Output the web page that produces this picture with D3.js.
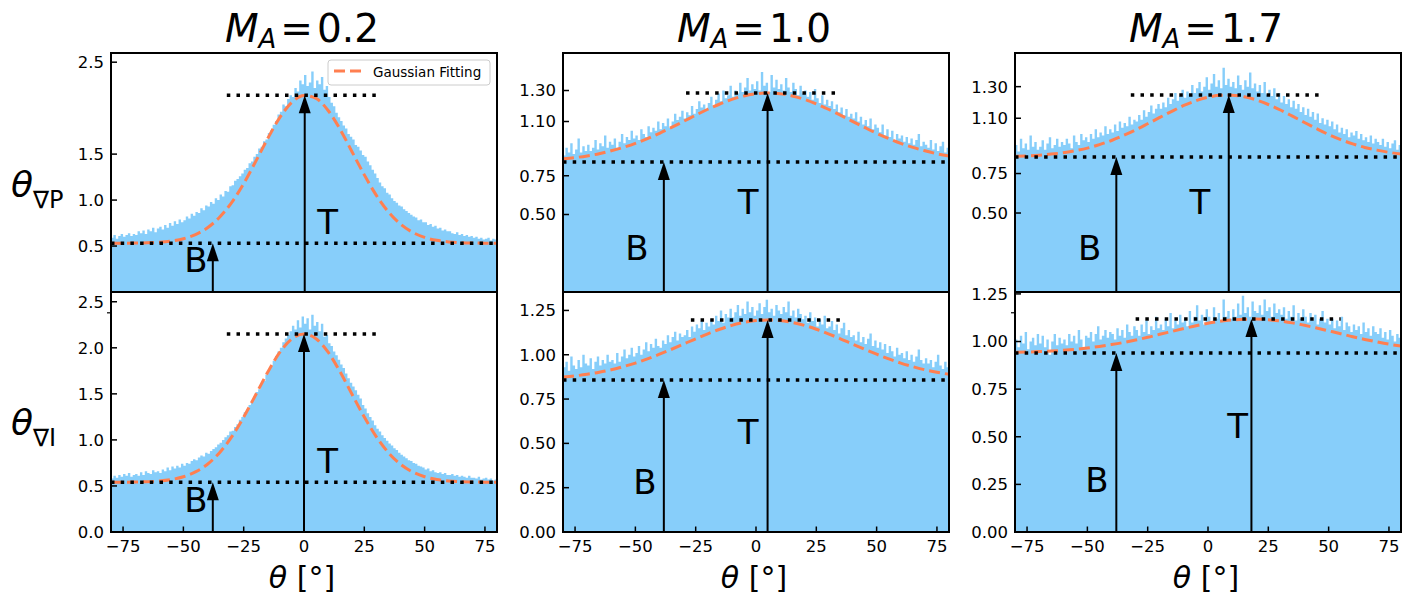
<!DOCTYPE html>
<html><head><meta charset="utf-8">
<script src="https://cdn.jsdelivr.net/npm/d3@7"></script>
<style>body{margin:0;background:#fff}svg{display:block;font-family:"DejaVu Sans",sans-serif}</style>
</head><body><svg id="c" width="1413" height="597"></svg>
<script>
// ---------- data ----------
const machNumbers = ["0.2", "1.0", "1.7"];
const rowVars = ["\u2207P", "\u2207I"];
const thetaTicks = [-75, -50, -25, 0, 25, 50, 75];
const thetaTickLabels = ["\u221275", "\u221250", "\u221225", "0", "25", "50", "75"];
const binLefts = d3.range(-80, 80, 1);      // 1-degree bins
const fitTheta = d3.range(-80, 81, 5);      // fit curve sample points

const histTL = [0.59,0.62,0.58,0.61,0.63,0.60,0.62,0.64,0.61,0.63,
 0.62,0.66,0.64,0.67,0.63,0.68,0.66,0.70,0.65,0.69,
 0.71,0.68,0.73,0.70,0.75,0.72,0.77,0.74,0.79,0.76,
 0.78,0.82,0.80,0.85,0.83,0.87,0.86,0.91,0.89,0.94,
 0.93,0.98,0.96,1.02,1.00,1.06,1.04,1.10,1.09,1.15,
 1.16,1.21,1.23,1.26,1.29,1.33,1.35,1.40,1.42,1.47,
 1.50,1.56,1.58,1.64,1.66,1.73,1.76,1.82,1.86,1.93,
 1.96,2.04,2.02,2.10,2.14,2.12,2.22,2.18,2.30,2.26,
 2.36,2.24,2.28,2.40,2.22,2.30,2.26,2.34,2.20,2.24,
 2.12,2.06,2.02,1.95,1.90,1.86,1.81,1.78,1.72,1.69,
 1.66,1.60,1.58,1.54,1.49,1.47,1.42,1.38,1.33,1.29,
 1.24,1.19,1.15,1.13,1.08,1.06,1.02,0.99,0.97,0.94,
 0.93,0.90,0.88,0.86,0.84,0.82,0.81,0.78,0.79,0.76,
 0.76,0.73,0.74,0.71,0.72,0.69,0.70,0.67,0.68,0.66,
 0.66,0.64,0.63,0.65,0.62,0.63,0.61,0.62,0.60,0.61,
 0.59,0.60,0.58,0.59,0.57,0.58,0.59,0.56,0.58,0.57];
const histTM = [0.88,0.93,0.90,0.96,0.89,0.92,0.99,0.90,0.94,0.91,
 0.95,0.91,0.93,0.98,0.92,0.96,0.94,1.01,0.93,0.97,
 0.95,0.99,0.93,0.97,1.02,0.96,1.00,0.98,1.04,0.99,
 1.01,0.98,1.05,1.02,1.00,1.07,1.03,1.06,1.04,1.10,
 1.05,1.09,1.07,1.12,1.06,1.10,1.15,1.11,1.13,1.17,
 1.12,1.16,1.14,1.20,1.15,1.18,1.23,1.19,1.21,1.17,
 1.22,1.26,1.20,1.24,1.28,1.23,1.30,1.25,1.27,1.33,
 1.26,1.30,1.28,1.35,1.29,1.32,1.38,1.30,1.34,1.31,
 1.36,1.30,1.42,1.33,1.35,1.29,1.40,1.32,1.37,1.31,
 1.34,1.30,1.38,1.32,1.29,1.35,1.31,1.27,1.33,1.28,
 1.30,1.26,1.29,1.24,1.31,1.25,1.22,1.27,1.21,1.24,
 1.20,1.23,1.18,1.21,1.16,1.19,1.14,1.18,1.13,1.15,
 1.12,1.16,1.10,1.13,1.08,1.11,1.07,1.12,1.05,1.08,
 1.06,1.03,1.08,1.01,1.05,1.00,1.04,0.98,1.02,0.99,
 1.01,0.97,1.00,0.96,0.99,0.95,0.98,1.02,0.94,0.97,
 0.95,0.93,0.98,0.92,0.96,0.91,0.94,0.97,0.90,0.93];
const histTR = [0.93,0.89,0.97,0.91,0.94,0.90,0.99,0.92,0.95,0.90,
 0.92,0.96,0.90,0.94,0.98,0.91,0.93,0.97,0.92,0.95,
 0.93,0.97,0.94,0.91,0.99,0.95,0.93,1.00,0.96,0.98,
 0.95,1.00,0.97,1.03,0.98,1.01,0.99,1.05,1.00,1.03,
 1.01,1.06,1.02,1.08,1.04,1.07,1.05,1.11,1.06,1.09,
 1.08,1.12,1.09,1.15,1.11,1.14,1.18,1.13,1.16,1.19,
 1.16,1.20,1.17,1.23,1.19,1.22,1.26,1.21,1.24,1.28,
 1.23,1.27,1.25,1.31,1.26,1.29,1.33,1.27,1.30,1.36,
 1.28,1.32,1.38,1.30,1.34,1.29,1.42,1.31,1.35,1.30,
 1.33,1.29,1.37,1.31,1.28,1.34,1.30,1.39,1.29,1.32,
 1.27,1.31,1.26,1.33,1.25,1.28,1.24,1.29,1.22,1.26,
 1.20,1.24,1.19,1.22,1.17,1.21,1.16,1.19,1.14,1.17,
 1.12,1.16,1.11,1.14,1.09,1.13,1.07,1.10,1.06,1.09,
 1.05,1.08,1.03,1.06,1.01,1.04,1.00,1.03,0.98,1.01,
 0.99,1.02,0.97,1.00,0.96,0.98,0.95,0.99,0.94,0.97,
 0.95,0.93,0.97,0.92,0.95,0.91,0.94,0.96,0.90,0.93];
const histBL = [0.58,0.61,0.59,0.62,0.60,0.63,0.61,0.64,0.60,0.62,
 0.63,0.61,0.65,0.62,0.66,0.64,0.63,0.67,0.65,0.66,
 0.64,0.68,0.66,0.70,0.67,0.71,0.69,0.72,0.70,0.74,
 0.72,0.75,0.74,0.77,0.79,0.78,0.81,0.83,0.82,0.86,
 0.85,0.88,0.90,0.92,0.95,0.97,1.00,1.03,1.05,1.09,
 1.10,1.14,1.17,1.22,1.25,1.30,1.33,1.38,1.43,1.47,
 1.52,1.55,1.61,1.64,1.71,1.76,1.80,1.86,1.91,1.96,
 2.00,2.06,2.10,2.14,2.18,2.24,2.20,2.30,2.22,2.34,
 2.26,2.32,2.20,2.36,2.24,2.28,2.18,2.26,2.12,2.14,
 2.05,2.02,1.96,1.92,1.87,1.82,1.78,1.72,1.67,1.62,
 1.58,1.54,1.49,1.45,1.38,1.34,1.29,1.25,1.21,1.16,
 1.12,1.09,1.05,1.02,0.99,0.96,0.94,0.91,0.89,0.86,
 0.84,0.82,0.80,0.78,0.77,0.75,0.74,0.72,0.71,0.70,
 0.68,0.69,0.66,0.67,0.65,0.64,0.65,0.63,0.64,0.62,
 0.62,0.63,0.61,0.62,0.60,0.61,0.60,0.59,0.61,0.59,
 0.59,0.58,0.60,0.57,0.58,0.59,0.57,0.58,0.56,0.57];
const histBM = [0.93,0.96,0.91,0.99,0.94,0.92,0.97,0.93,1.00,0.95,
 0.94,0.98,0.92,0.96,0.99,0.94,0.97,0.95,1.00,0.96,
 0.97,0.95,1.01,0.96,0.99,1.03,0.98,1.00,1.04,0.99,
 1.01,1.05,1.00,1.03,1.07,1.02,1.06,1.04,1.09,1.05,
 1.04,1.08,1.06,1.11,1.07,1.10,1.13,1.08,1.12,1.10,
 1.11,1.14,1.10,1.16,1.13,1.17,1.15,1.19,1.14,1.18,
 1.16,1.20,1.17,1.22,1.19,1.25,1.18,1.23,1.21,1.26,
 1.21,1.24,1.28,1.22,1.26,1.23,1.30,1.24,1.27,1.22,
 1.25,1.29,1.23,1.27,1.31,1.24,1.26,1.22,1.28,1.25,
 1.23,1.27,1.24,1.30,1.22,1.25,1.21,1.26,1.23,1.20,
 1.22,1.18,1.24,1.19,1.21,1.16,1.20,1.17,1.22,1.15,
 1.16,1.19,1.14,1.17,1.12,1.15,1.18,1.11,1.14,1.10,
 1.11,1.08,1.13,1.07,1.10,1.06,1.09,1.12,1.05,1.08,
 1.04,1.07,1.03,1.06,1.01,1.05,1.02,0.99,1.04,1.00,
 1.01,0.98,1.02,0.97,1.00,0.96,0.99,1.03,0.97,0.95,
 0.98,0.95,0.97,0.93,0.96,1.00,0.94,0.92,0.96,0.93];
const histBR = [1.01,0.97,1.03,0.99,1.05,0.96,1.00,1.02,0.98,1.04,
 0.99,1.03,0.97,1.01,0.93,1.00,1.04,0.98,1.02,0.99,
 1.01,0.98,1.04,1.00,1.03,0.99,1.06,1.01,0.97,1.03,
 1.02,1.05,1.00,1.04,1.08,1.01,1.03,1.06,1.02,1.05,
 1.04,1.01,1.07,1.03,1.06,1.02,1.09,1.05,1.03,1.08,
 1.06,1.03,1.09,1.05,1.11,1.04,1.08,1.06,1.13,1.07,
 1.09,1.06,1.12,1.08,1.15,1.07,1.11,1.09,1.14,1.10,
 1.12,1.08,1.16,1.10,1.13,1.19,1.11,1.14,1.09,1.17,
 1.13,1.10,1.18,1.12,1.15,1.11,1.22,1.13,1.16,1.12,
 1.17,1.13,1.20,1.14,1.24,1.15,1.18,1.13,1.21,1.16,
 1.15,1.19,1.14,1.22,1.16,1.18,1.13,1.20,1.15,1.17,
 1.14,1.18,1.12,1.16,1.13,1.19,1.11,1.15,1.12,1.17,
 1.13,1.10,1.15,1.11,1.14,1.09,1.12,1.16,1.10,1.12,
 1.09,1.12,1.07,1.11,1.08,1.13,1.06,1.10,1.08,1.05,
 1.09,1.06,1.08,1.04,1.10,1.05,1.07,1.03,1.08,1.05,
 1.04,1.07,1.02,1.05,1.01,1.06,1.03,1.00,1.04,1.02];

const fitTL = [0.530,0.531,0.532,0.535,0.541,0.554,0.579,0.624,0.699,0.813,0.973,1.180,1.421,1.672,1.899,2.064,2.138,2.106,1.974,1.768,1.521,1.274,1.051,0.871,0.739,0.650,0.594,0.562,0.545,0.537,0.533,0.531,0.530];
const fitTM = [0.859,0.867,0.878,0.892,0.911,0.933,0.959,0.990,1.024,1.062,1.101,1.141,1.179,1.213,1.243,1.265,1.279,1.284,1.279,1.265,1.243,1.213,1.179,1.141,1.101,1.062,1.024,0.990,0.959,0.933,0.911,0.892,0.878];
const fitTR = [0.859,0.862,0.866,0.873,0.882,0.895,0.911,0.933,0.959,0.991,1.026,1.065,1.105,1.144,1.181,1.211,1.233,1.245,1.246,1.236,1.216,1.187,1.152,1.113,1.073,1.034,0.997,0.965,0.938,0.915,0.898,0.884,0.874];
const fitBL = [0.540,0.541,0.543,0.546,0.554,0.570,0.600,0.652,0.736,0.861,1.033,1.248,1.491,1.737,1.952,2.098,2.150,2.098,1.952,1.737,1.491,1.248,1.033,0.861,0.736,0.652,0.600,0.570,0.554,0.546,0.543,0.541,0.540];
const fitBM = [0.874,0.881,0.890,0.901,0.915,0.933,0.953,0.977,1.003,1.031,1.060,1.090,1.118,1.144,1.166,1.182,1.193,1.196,1.193,1.182,1.166,1.144,1.118,1.090,1.060,1.031,1.003,0.977,0.953,0.933,0.915,0.901,0.890];
const fitBR = [0.943,0.945,0.947,0.950,0.954,0.959,0.966,0.974,0.984,0.995,1.008,1.022,1.038,1.053,1.068,1.083,1.096,1.106,1.113,1.117,1.118,1.114,1.108,1.098,1.085,1.071,1.056,1.041,1.025,1.011,0.998,0.986,0.976];

const baseLevel = [[0.53, 0.839, 0.854], [0.54, 0.857, 0.94]];
const topLevel  = [[2.14, 1.284, 1.247], [2.15, 1.196, 1.118]];
const topLineSpan = [[[-32, 30], [-29, 33], [-32, 48]], [[-32, 30], [-27, 35], [-30, 55]]];
const arrowBTheta = [[-37.8, -38.2, -38], [-37.8, -38.2, -38]];
const arrowTTheta = [[0.3, 4.8, 8.6], [0, 4.8, 18]];
const labelBPos = [[[-44.8, 0.35], [-49.4, 0.284], [-49, 0.278]], [[-44.8, 0.347], [-46, 0.282], [-46, 0.273]]];
const labelTPos = [[[9.8, 0.76], [-3.3, 0.58], [-3.4, 0.57]], [[9.8, 0.77], [-3.3, 0.564], [12.3, 0.56]]];
const yMax = [[2.6, 1.542, 1.513], [2.606, 1.354, 1.26]];
const yTickVals = [
  [[0.5, 1.0, 1.5, 2.5], [0.5, 0.75, 1.1, 1.3], [0.5, 0.75, 1.1, 1.3]],
  [[0, 0.5, 1, 1.5, 2, 2.5], [0, 0.25, 0.5, 0.75, 1, 1.25], [0, 0.25, 0.5, 0.75, 1, 1.25]]
];
const yTickLabels = [
  [["0.5", "1.0", "1.5", "2.5"], ["0.50", "0.75", "1.10", "1.30"], ["0.50", "0.75", "1.10", "1.30"]],
  [["0.0", "0.5", "1.0", "1.5", "2.0", "2.5"], ["0.00", "0.25", "0.50", "0.75", "1.00", "1.25"], ["0.00", "0.25", "0.50", "0.75", "1.00", "1.25"]]
];
const strayTick = [[null, null, null], [2.38, null, 1.151]];

// ---------- layout ----------
const colX = [[111, 497], [563, 949], [1015, 1401]];
const rowY = [[53, 292], [292, 532]];
const hists = [[histTL, histTM, histTR], [histBL, histBM, histBR]];
const fits = [[fitTL, fitTM, fitTR], [fitBL, fitBM, fitBR]];
const BAR = "#87CEFA", FIT = "#FF7F50";

const svg = d3.select("#c");

for (let r = 0; r < 2; r++) {
  for (let c = 0; c < 3; c++) {
    const x = d3.scaleLinear().domain([-80, 80]).range(colX[c]);
    const y = d3.scaleLinear().domain([0, yMax[r][c]]).range([rowY[r][1], rowY[r][0]]);
    const g = svg.append("g");
    const id = "cp" + r + c;
    g.append("clipPath").attr("id", id).append("rect")
      .attr("x", colX[c][0]).attr("y", rowY[r][0])
      .attr("width", colX[c][1] - colX[c][0]).attr("height", rowY[r][1] - rowY[r][0]);
    const pg = g.append("g").attr("clip-path", `url(#${id})`);

    // histogram bars (drawn as one stepped area, one step per bin)
    const h = hists[r][c];
    const steps = h.map((v, i) => [binLefts[i], v]).concat([[binLefts[h.length - 1] + 1, h[h.length - 1]]]);
    pg.append("path").datum(steps)
      .attr("d", d3.area().x(d => x(d[0])).y0(y(0)).y1(d => y(d[1])).curve(d3.curveStepAfter))
      .attr("fill", BAR);

    // gaussian fit
    pg.append("path").datum(fits[r][c])
      .attr("d", d3.line().x((d, i) => x(fitTheta[i])).y(d => y(d)).curve(d3.curveMonotoneX))
      .attr("fill", "none").attr("stroke", FIT).attr("stroke-width", 3)
      .attr("stroke-dasharray", "11,5");

    // dotted lines
    pg.append("line").attr("x1", x(-80)).attr("x2", x(80))
      .attr("y1", y(baseLevel[r][c])).attr("y2", y(baseLevel[r][c]))
      .attr("stroke", "#000").attr("stroke-width", 3.5).attr("stroke-dasharray", "3.5,6.2");
    pg.append("line").attr("x1", x(topLineSpan[r][c][0])).attr("x2", x(topLineSpan[r][c][1]))
      .attr("y1", y(topLevel[r][c])).attr("y2", y(topLevel[r][c]))
      .attr("stroke", "#000").attr("stroke-width", 3.5).attr("stroke-dasharray", "3.5,6.2");

    // arrows
    function arrow(th, lvl) {
      const ax = x(th), y0 = y(0), yt = y(lvl), hl = 18, hw = 6;
      pg.append("line").attr("x1", ax).attr("x2", ax).attr("y1", y0).attr("y2", yt + hl - 1)
        .attr("stroke", "#000").attr("stroke-width", 2);
      pg.append("path").attr("d", `M${ax},${yt}L${ax - hw},${yt + hl}L${ax + hw},${yt + hl}Z`)
        .attr("fill", "#000");
    }
    arrow(arrowBTheta[r][c], baseLevel[r][c]);
    arrow(arrowTTheta[r][c], topLevel[r][c]);

    // B / T labels
    g.append("text").attr("x", x(labelBPos[r][c][0])).attr("y", y(labelBPos[r][c][1]))
      .attr("dy", "0.36em").attr("text-anchor", "middle").attr("font-size", 34).text("B");
    g.append("text").attr("x", x(labelTPos[r][c][0])).attr("y", y(labelTPos[r][c][1]))
      .attr("dy", "0.36em").attr("text-anchor", "middle").attr("font-size", 34).text("T");

    // y ticks (inward)
    yTickVals[r][c].forEach((v, i) => {
      g.append("line").attr("x1", colX[c][0]).attr("x2", colX[c][0] + 6)
        .attr("y1", y(v)).attr("y2", y(v)).attr("stroke", "#000").attr("stroke-width", 1.5);
      g.append("text").attr("x", colX[c][0] - 7).attr("y", y(v)).attr("dy", "0.36em")
        .attr("text-anchor", "end").attr("font-size", 16.5).text(yTickLabels[r][c][i]);
    });
    if (strayTick[r][c] !== null) {
      g.append("line").attr("x1", colX[c][0] - 4).attr("x2", colX[c][0])
        .attr("y1", y(strayTick[r][c])).attr("y2", y(strayTick[r][c]))
        .attr("stroke", "#000").attr("stroke-width", 1.2);
    }

    // x ticks (bottom row)
    if (r === 1) {
      thetaTicks.forEach((t, i) => {
        g.append("line").attr("x1", x(t)).attr("x2", x(t))
          .attr("y1", rowY[r][1]).attr("y2", rowY[r][1] - 5.5)
          .attr("stroke", "#000").attr("stroke-width", 1.5);
        g.append("text").attr("x", x(t)).attr("y", rowY[r][1] + 20)
          .attr("text-anchor", "middle").attr("font-size", 16.5).text(thetaTickLabels[i]);
      });
      const xl = g.append("text").attr("x", (colX[c][0] + colX[c][1]) / 2 - 2).attr("y", 588)
        .attr("text-anchor", "middle").attr("font-size", 30);
      xl.append("tspan").attr("font-style", "italic").text("\u03B8");
      xl.append("tspan").text(" [\u00B0]");
    }

    // spines
    g.append("rect").attr("x", colX[c][0]).attr("y", rowY[r][0])
      .attr("width", colX[c][1] - colX[c][0]).attr("height", rowY[r][1] - rowY[r][0])
      .attr("fill", "none").attr("stroke", "#000").attr("stroke-width", 2);

    // titles
    if (r === 0) {
      const t = g.append("text").attr("x", (colX[c][0] + colX[c][1]) / 2 - 2).attr("y", 42)
        .attr("text-anchor", "middle").attr("font-size", 39);
      t.append("tspan").attr("font-style", "italic").text("M");
      t.append("tspan").attr("font-style", "italic").attr("font-size", 26).attr("dy", 6).text("A");
      t.append("tspan").attr("dy", -6).attr("dx", 4).text("=");
      t.append("tspan").attr("dx", 4).text(machNumbers[c]);
    }

    // legend
    if (r === 0 && c === 0) {
      const lx = colX[c][1] - 169, ly = rowY[r][0] + 7;
      g.append("rect").attr("x", lx).attr("y", ly).attr("width", 162).attr("height", 25)
        .attr("rx", 3).attr("fill", "#fff").attr("fill-opacity", 0.8)
        .attr("stroke", "#cccccc").attr("stroke-width", 1);
      g.append("line").attr("x1", lx + 6).attr("x2", lx + 34).attr("y1", ly + 11).attr("y2", ly + 11)
        .attr("stroke", FIT).attr("stroke-width", 3).attr("stroke-dasharray", "11,5");
      g.append("text").attr("x", lx + 45).attr("y", ly + 16.5).attr("font-size", 13.5)
        .text("Gaussian Fitting");
    }
  }
}

// row labels
rowVars.forEach((v, r) => {
  const yb = r === 0 ? 197 : 435;
  const t = svg.append("text").attr("x", 11).attr("y", yb).attr("font-size", 36);
  t.append("tspan").attr("font-style", "italic").text("\u03B8");
  t.append("tspan").attr("font-size", 24).attr("dy", 11).text(v);
});
</script>
</body></html>
